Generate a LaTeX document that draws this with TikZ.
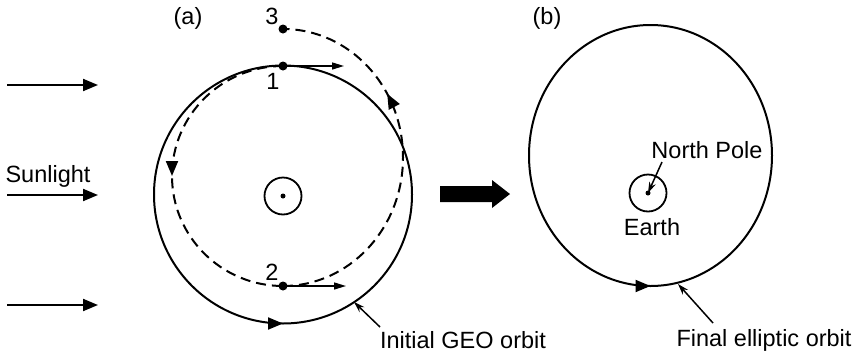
\documentclass[tikz,border=0pt]{standalone}
\usepackage{fontspec}
\setmainfont{Liberation Sans}
\usetikzlibrary{arrows.meta,decorations.markings}
\begin{document}
\begin{tikzpicture}[x=1pt,y=-1pt,
  lbl/.style={font=\fontsize{23.5}{26}\selectfont, inner sep=0pt},
  orbit/.style={line width=2pt},
  dashorbit/.style={line width=2pt, dash pattern=on 10pt off 6pt},
  sun/.style={line width=2pt, -{Triangle[length=15pt,width=12pt]}},
  vel/.style={line width=1.5pt, -{Triangle[length=12pt,width=7pt]}},
  ptr/.style={line width=1.5pt, -{Stealth[length=11pt,width=7pt]}},
  dot/.style={circle, fill, inner sep=0pt, minimum size=9pt},
  smalldot/.style={circle, fill, inner sep=0pt, minimum size=5pt},
  earth/.style={circle, draw, line width=1.8pt, inner sep=0pt, minimum size=37pt},
  midarrow/.style={postaction={decorate, decoration={markings,
     mark=at position #1 with {\arrow[solid]{Triangle[length=15pt,width=12pt]}}}}}
]
\useasboundingbox (0,0) rectangle (860,354);

% sunlight
\coordinate (s1a) at (7,85);   \coordinate (s1b) at (98,85);
\coordinate (s2a) at (7,195);  \coordinate (s2b) at (98,195);
\coordinate (s3a) at (7,305);  \coordinate (s3b) at (98,305);
\draw[sun] (s1a) -- (s1b);
\draw[sun] (s2a) -- (s2b);
\draw[sun] (s3a) -- (s3b);
\node[lbl] (sunlbl) at (48,176) {Sunlight};

% panel (a)
\node[lbl] (la) at (188,18) {(a)};
\draw[orbit, midarrow=0.25] (154,194.5) arc[start angle=180, end angle=-180, radius=129];
\node[earth] (earthA) at (283,196) {};
\node[smalldot] (poleA) at (earthA) {};

\draw[dashorbit, midarrow=0.5] (283,66) arc[start angle=270, end angle=90, x radius=111, y radius=110];
\draw[dashorbit, midarrow=0.67] (283,286) arc[start angle=90, end angle=-90, x radius=120, y radius=128.5];

\node[dot] (p1) at (283,66) {};
\node[dot] (p2) at (283,286) {};
\node[dot] (p3) at (283,29) {};
\coordinate (v1) at (344,66);
\coordinate (v2) at (346,286);
\draw[vel] (p1.center) -- (v1);
\draw[vel] (p2.center) -- (v2);
\node[lbl] (n1) at (273,81) {1};
\node[lbl] (n2) at (272,272) {2};
\node[lbl] (n3) at (272,16) {3};

\node[lbl] (initlbl) at (463,340) {Initial GEO orbit};
\coordinate (initA) at (380,327);
\coordinate (initB) at (354,302);
\draw[ptr] (initA) -- (initB);

% transition arrow
\fill (440,186) -- (492,186) -- (492,180) -- (510,194) -- (492,208) -- (492,202) -- (440,202) -- cycle;

% panel (b)
\node[lbl] (lb) at (547,18) {(b)};
\draw[orbit, midarrow=0.25] (529,155.5) arc[start angle=180, end angle=-180, x radius=121.5, y radius=130.5];
\node[earth] (earthB) at (648,193) {};
\node[smalldot] (poleB) at (earthB) {};
\node[lbl] (nplbl) at (707,150) {North Pole};
\coordinate (npA) at (662,162);
\draw[ptr] (npA) -- (poleB.center);
\node[lbl] (earthlbl) at (652,227) {Earth};

\node[lbl] (finallbl) at (764,340) {Final elliptic orbit};
\coordinate (finA) at (713,323);
\coordinate (finB) at (678,284);
\draw[ptr] (finA) -- (finB);
\end{tikzpicture}
\end{document}
